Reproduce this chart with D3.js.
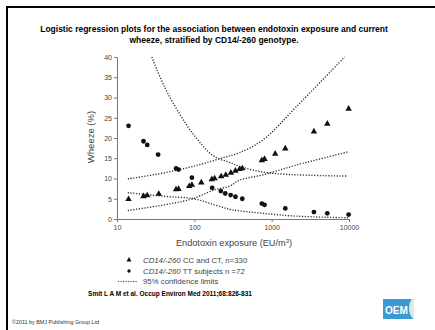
<!DOCTYPE html>
<html>
<head>
<meta charset="utf-8">
<script src="https://cdn.jsdelivr.net/npm/d3@7"></script>
<style>
  body { margin: 0; background: #fff; }
  svg { display: block; font-family: "Liberation Sans", Arial, sans-serif; }
  .axis path, .axis line { stroke: #777; }
  .axis text { fill: #444; font-size: 7px; }
</style>
</head>
<body>
<div id="chart"></div>
<script>
// CD14/-260 CC and CT (triangles)
const ccX = [14.1, 22, 24.6, 34.7, 58, 62.5, 86, 93, 123, 168, 183, 222, 255, 297, 340, 385, 417, 747, 809, 1110, 1500, 3520, 5240, 9890];
const ccY = [4.9, 5.6, 5.8, 6.2, 7.3, 7.4, 8.1, 8.4, 9.0, 9.8, 10.0, 10.5, 10.9, 11.4, 11.9, 12.3, 12.5, 14.5, 14.8, 16.1, 17.4, 21.6, 23.5, 27.2];
// CD14/-260 TT (circles)
const ttX = [14.1, 22, 24.6, 34, 58, 62.5, 93, 170, 220, 251, 295, 340, 417, 747, 809, 1500, 3520, 5240, 9890];
const ttY = [23.0, 19.2, 18.3, 15.9, 12.5, 12.2, 10.2, 7.7, 6.9, 6.3, 5.9, 5.5, 5.0, 3.8, 3.5, 2.6, 1.7, 1.4, 1.1];

// 95% confidence limits
const ccUpX = [13.8, 41, 111, 222, 385, 770, 2080, 8770];
const ccUpY = [9.9, 11.4, 13.3, 15.0, 16.4, 19.5, 27.7, 40];
const ccLoX = [13.8, 41, 91, 182, 285, 385, 770, 2080, 9800];
const ccLoY = [2.1, 3.5, 4.9, 7.2, 8.1, 9.6, 10.9, 13.3, 16.6];
const ttUpX = [28.2, 41, 67.6, 111, 182, 285, 385, 893, 9250];
const ttUpY = [40, 32.7, 25.3, 19.5, 15.4, 14.0, 13.0, 11.4, 10.6];
const ttLoX = [13.8, 41, 98, 182, 285, 385, 770, 2080, 9800];
const ttLoY = [6.5, 5.6, 5.0, 3.5, 2.4, 2.0, 1.4, 0.7, 0.3];

const yTicks = [0, 5, 10, 15, 20, 25, 30, 35, 40];
const xTicks = [10, 100, 1000, 10000];

const svg = d3.select('#chart').append('svg')
  .attr('width', 435)
  .attr('height', 330);

svg.append('rect').attr('width', 435).attr('height', 330).attr('fill', '#fff');

// frame
svg.append('rect').attr('x', 6).attr('y', 6).attr('width', 2).attr('height', 324).attr('fill', '#000');
svg.append('rect').attr('x', 6).attr('y', 6).attr('width', 429).attr('height', 2).attr('fill', '#000');

// title
const title = svg.append('text')
  .attr('text-anchor', 'middle')
  .style('font-size', '8.5px')
  .style('font-weight', 'bold');
title.append('tspan').attr('x', 214).attr('y', 32)
  .text('Logistic regression plots for the association between endotoxin exposure and current');
title.append('tspan').attr('x', 214).attr('y', 43)
  .text('wheeze, stratified by CD14/-260 genotype.');

const x = d3.scaleLog().domain([10, 10000]).range([117, 349]);
const y = d3.scaleLinear().domain([0, 40]).range([219, 57]);

svg.append('g')
  .attr('class', 'axis')
  .attr('transform', 'translate(117,0)')
  .call(d3.axisLeft(y).tickValues(yTicks).tickSize(3).tickPadding(2).tickSizeOuter(0));

svg.append('g')
  .attr('class', 'axis')
  .attr('transform', 'translate(0,219)')
  .call(d3.axisBottom(x).tickValues(xTicks).tickFormat(d3.format('d')).tickSize(3).tickPadding(3).tickSizeOuter(0));

svg.append('text')
  .attr('transform', 'translate(94,137) rotate(-90)')
  .attr('text-anchor', 'middle')
  .attr('fill', '#444')
  .style('font-size', '9.5px')
  .text('Wheeze (%)');

const xTitle = svg.append('text')
  .attr('x', 234).attr('y', 246)
  .attr('text-anchor', 'middle')
  .attr('fill', '#444')
  .style('font-size', '9.2px')
  .text('Endotoxin exposure (EU/m');
xTitle.append('tspan').attr('dy', -3.5).style('font-size', '6px').text('3');
xTitle.append('tspan').attr('dy', 3.5).text(')');

// confidence limits
const line = d3.line()
  .x(d => x(d[0]))
  .y(d => y(d[1]))
  .curve(d3.curveCatmullRom);

[[ccUpX, ccUpY], [ccLoX, ccLoY], [ttUpX, ttUpY], [ttLoX, ttLoY]].forEach(([xs, ys]) => {
  svg.append('path')
    .datum(xs.map((v, i) => [v, ys[i]]))
    .attr('d', line)
    .attr('fill', 'none')
    .attr('stroke', '#333')
    .attr('stroke-width', 1.4)
    .attr('stroke-dasharray', '1.2,1.6');
});

const tri = d3.symbol().type(d3.symbolTriangle).size(18);

svg.selectAll('.tri')
  .data(ccX.map((v, i) => [v, ccY[i]]))
  .enter().append('path')
  .attr('class', 'tri')
  .attr('d', tri)
  .attr('transform', d => 'translate(' + x(d[0]) + ',' + y(d[1]) + ')')
  .attr('fill', '#111');

svg.selectAll('.dot')
  .data(ttX.map((v, i) => [v, ttY[i]]))
  .enter().append('circle')
  .attr('class', 'dot')
  .attr('cx', d => x(d[0]))
  .attr('cy', d => y(d[1]))
  .attr('r', 2.4)
  .attr('fill', '#111');

// legend
const legend = svg.append('g').style('font-size', '7.8px').attr('fill', '#444');
legend.append('path')
  .attr('d', d3.symbol().type(d3.symbolTriangle).size(11))
  .attr('transform', 'translate(129,260)')
  .attr('fill', '#111');
legend.append('circle').attr('cx', 129).attr('cy', 271).attr('r', 1.7).attr('fill', '#111');
legend.append('line')
  .attr('x1', 118).attr('x2', 137).attr('y1', 281.5).attr('y2', 281.5)
  .attr('stroke', '#444').attr('stroke-width', 1.2).attr('stroke-dasharray', '1.2,1.3');

const l1 = legend.append('text').attr('x', 143).attr('y', 263);
l1.append('tspan').style('font-style', 'italic').text('CD14/-260');
l1.append('tspan').text(' CC and CT, n=330');
const l2 = legend.append('text').attr('x', 143).attr('y', 273.5);
l2.append('tspan').style('font-style', 'italic').text('CD14/-260');
l2.append('tspan').text(' TT subjects n =72');
legend.append('text').attr('x', 143).attr('y', 284).text('95% confidence limits');

svg.append('text')
  .attr('x', 170).attr('y', 295.5)
  .attr('text-anchor', 'middle')
  .style('font-size', '6.5px')
  .style('font-weight', 'bold')
  .text('Smit L A M et al. Occup Environ Med 2011;68:826-831');

svg.append('text')
  .attr('x', 12).attr('y', 324)
  .attr('fill', '#333')
  .style('font-size', '5.4px')
  .text('\u00a92011 by BMJ Publishing Group Ltd');

// OEM logo
const logo = svg.append('g');
logo.append('clipPath').attr('id', 'logoClip')
  .append('rect').attr('x', 383).attr('y', 299).attr('width', 31).attr('height', 20);
logo.append('rect').attr('x', 383).attr('y', 299).attr('width', 31).attr('height', 20).attr('fill', '#3a9ad1');
logo.append('circle').attr('cx', 425).attr('cy', 308).attr('r', 16)
  .attr('fill', '#e2eadf').attr('clip-path', 'url(#logoClip)');
logo.append('text').attr('x', 385).attr('y', 313.5)
  .attr('fill', '#fff').style('font-size', '10px').style('font-weight', 'bold')
  .text('OEM');
</script>
</body>
</html>
